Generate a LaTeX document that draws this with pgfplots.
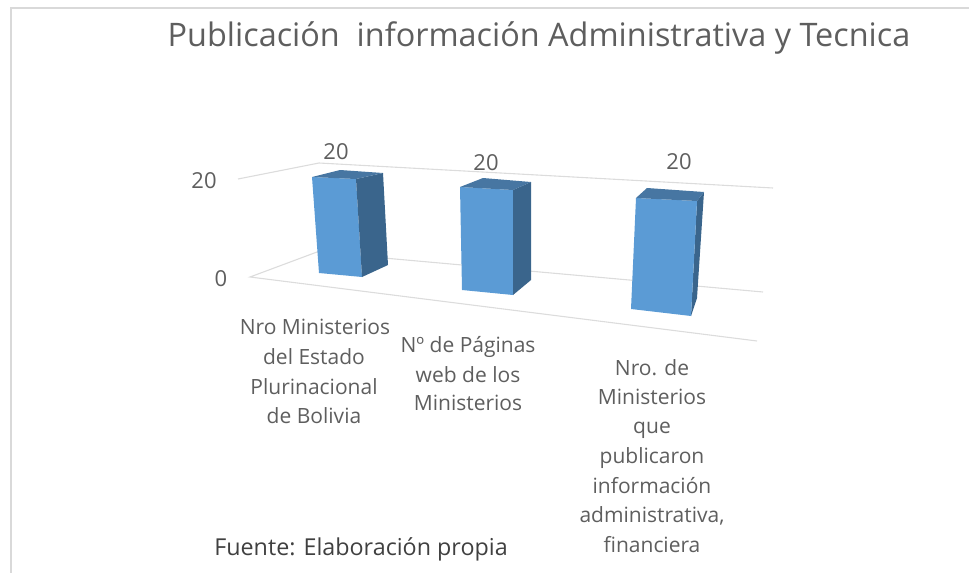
\documentclass[border=0pt]{standalone}
\usepackage{pgfplots}
\pgfplotsset{compat=1.18}
\usepackage{fontspec}
\setmainfont{Open Sans}
\definecolor{txt}{gray}{0.37}
\definecolor{barfront}{HTML}{5B9BD5}
\definecolor{barside}{HTML}{3A658C}
\definecolor{bartop}{HTML}{4776A2}
\definecolor{gridc}{HTML}{DCDCDC}
\definecolor{framec}{HTML}{D9D9D9}
\tikzset{
  lab/.style={text=txt,inner sep=0pt,anchor=base,font=\fontsize{21bp}{25bp}\selectfont},
  num/.style={text=txt,inner sep=0pt,anchor=base,font=\fontsize{22bp}{26bp}\selectfont},
  ttl/.style={text=txt,inner sep=0pt,anchor=base,font=\fontsize{32.4bp}{38bp}\selectfont},
  fte/.style={text=black!75,inner sep=0pt,anchor=base,font=\fontsize{23.3bp}{27bp}\selectfont},
}
\begin{document}
\begin{tikzpicture}
\path[use as bounding box] (0,0) rectangle (969bp,573bp);
\begin{axis}[
  at={(0,0)},anchor=south west,
  scale only axis,width=969bp,height=573bp,
  xmin=0,xmax=969,ymin=0,ymax=573,y dir=reverse,
  hide axis,clip=true,
]
% frame
\addplot[framec,line width=1.6bp] coordinates {(969,8) (11,8) (11,573)};
% plot frame lines
\addplot[gridc,line width=1.1bp] coordinates {(238,179) (319,163) (773,188)};
\addplot[gridc,line width=1.1bp] coordinates {(317,252) (250,277) (757,341)};
\addplot[gridc,line width=1.1bp] coordinates {(317,252) (763,292)};
% bar 1
\addplot[fill=barfront,draw=none] coordinates {(312,177) (356,179) (362,277) (319,273)} --cycle;
\addplot[fill=barside,draw=none] coordinates {(356,179) (383,173) (388,265) (362,277)} --cycle;
\addplot[fill=bartop,draw=none] coordinates {(312,177) (340,170) (383,173) (356,179)} --cycle;
% bar 2
\addplot[fill=barfront,draw=none] coordinates {(460,187) (513,190) (513,295) (462,290)} --cycle;
\addplot[fill=barside,draw=none] coordinates {(513,190) (531,182) (531,280) (513,295)} --cycle;
\addplot[fill=bartop,draw=none] coordinates {(460,187) (483,178) (531,182) (513,190)} --cycle;
% bar 3
\addplot[fill=barside,draw=none] coordinates {(697,201) (704,192) (697,298) (691,316)} --cycle;
\addplot[fill=barfront,draw=none] coordinates {(636,198) (697,201) (691,316) (631,309)} --cycle;
\addplot[fill=bartop,draw=none] coordinates {(636,198) (647,188) (704,192) (697,201)} --cycle;
% text
\node[ttl] at (axis cs:539,47) {Publicación\ \ información Administrativa y Tecnica};
\node[num] at (axis cs:336,159) {20};
\node[num] at (axis cs:486,170) {20};
\node[num] at (axis cs:679,169) {20};
\node[num] at (axis cs:204,188) {20};
\node[num] at (axis cs:221,286) {0};
\node[lab] at (axis cs:315,334) {Nro Ministerios};
\node[lab] at (axis cs:314,364) {del Estado};
\node[lab] at (axis cs:314,394) {Plurinacional};
\node[lab] at (axis cs:314,423) {de Bolivia};
\node[lab] at (axis cs:468,352) {Nº de Páginas};
\node[lab] at (axis cs:468,382) {web de los};
\node[lab] at (axis cs:468,410) {Ministerios};
\node[lab] at (axis cs:652,375) {Nro. de};
\node[lab] at (axis cs:652,404) {Ministerios};
\node[lab] at (axis cs:652,433) {que};
\node[lab] at (axis cs:652,463) {publicaron};
\node[lab] at (axis cs:652,493) {información};
\node[lab] at (axis cs:652,522) {administrativa,};
\node[lab] at (axis cs:652,552) {financiera};
\node[fte] at (axis cs:361,555) {Fuente: Elaboración propia};
\end{axis}
\end{tikzpicture}
\end{document}
